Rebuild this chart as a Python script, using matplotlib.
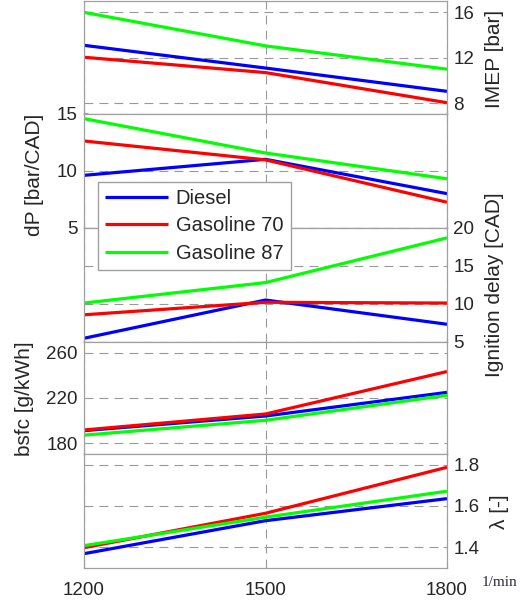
import matplotlib
matplotlib.use('Agg')
import matplotlib.pyplot as plt

plt.rcParams['font.family'] = ['Liberation Sans', 'DejaVu Sans']

# engine speed [1/min]
speed = [1200, 1500, 1800]
fuels = ['Diesel', 'Gasoline 70', 'Gasoline 87']
colors = ['#0000ff', '#ff0000', '#00ff00']

# values per fuel, order: Diesel, Gasoline 70, Gasoline 87
imep = [[13.1, 11.1, 9.05], [12.05, 10.7, 8.05], [16.0, 13.05, 11.0]]
dp = [[9.6, 11.0, 8.0], [12.6, 10.95, 7.25], [14.55, 11.55, 9.3]]
ign_delay = [[5.45, 10.5, 7.3], [8.55, 10.2, 10.1], [10.1, 12.8, 18.7]]
bsfc = [[191.0, 204.0, 225.0], [191.6, 205.8, 243.5], [187.0, 200.2, 222.4]]
lam = [[1.368, 1.528, 1.635], [1.397, 1.564, 1.787], [1.407, 1.545, 1.671]]

panels = [
    (imep, 'IMEP [bar]', 'right', (7.1, 17.0), [8, 12, 16], (1.105, 0.484)),
    (dp, 'dP [bar/CAD]', 'left', (5, 15), [5, 10, 15], (-0.11, 0.463)),
    (ign_delay, 'Ignition delay [CAD]', 'right', (5, 20), [5, 10, 15, 20], (1.105, 0.5)),
    (bsfc, 'bsfc [g/kWh]', 'left', (170, 270), [180, 220, 260], (-0.139, 0.491)),
    (lam, 'λ [-]', 'right', (1.3, 1.85), [1.4, 1.6, 1.8], (1.118, 0.49)),
]

W, H = 520, 602
edges = [1, 113.5, 228, 341.7, 454.3, 567.7]  # panel borders, px from top
left, right = 84, 447

grey = '#a0a0a0'
txt = '#262626'

fig = plt.figure(figsize=(W / 100, H / 100), dpi=100)

axes = []
for i, (vals, label, side, ylim, ticks, lc) in enumerate(panels):
    top, bot = edges[i], edges[i + 1]
    ax = fig.add_axes([left / W, 1 - bot / H, (right - left) / W, (bot - top) / H])
    for v, c, name in zip(vals, colors, fuels):
        ax.plot(speed, v, color=c, lw=2.3, label=name, solid_capstyle='butt')
    ax.set_xlim(1200, 1800)
    ax.set_ylim(*ylim)
    ax.set_yticks(ticks)
    ax.set_xticks(speed)
    ax.grid(True, linestyle=(0, (8, 5.5)), color='#999999', lw=0.8)
    for s in ax.spines.values():
        s.set_color(grey)
        s.set_linewidth(0.9)
    ax.tick_params(direction='in', length=3, color=grey, labelsize=13.5,
                   labelcolor=txt, pad=4.5)
    if side == 'right':
        ax.yaxis.tick_right()
        ax.yaxis.set_label_position('right')
    ax.set_ylabel(label, fontsize=15, color=txt)
    ax.yaxis.set_label_coords(*lc)
    if i < len(panels) - 1:
        ax.tick_params(axis='x', labelbottom=False)
    else:
        ax.tick_params(axis='x', pad=10)
    axes.append(ax)

handles, labels = axes[1].get_legend_handles_labels()
leg = fig.legend(handles, labels, loc='upper left',
                 bbox_to_anchor=(98.3 / W, 1 - 181.7 / H), borderaxespad=0,
                 fontsize=14.5, handlelength=3.1, handletextpad=0.4,
                 labelspacing=0.42, borderpad=0.35, fancybox=False,
                 framealpha=1, edgecolor=grey)
for t in leg.get_texts():
    t.set_color(txt)

fig.text(482 / W, 1 - 582 / H, '1/min', fontsize=11, family='Liberation Serif',
         color='#2a2540', ha='left', va='center')

fig.savefig('out.png', dpi=100)
